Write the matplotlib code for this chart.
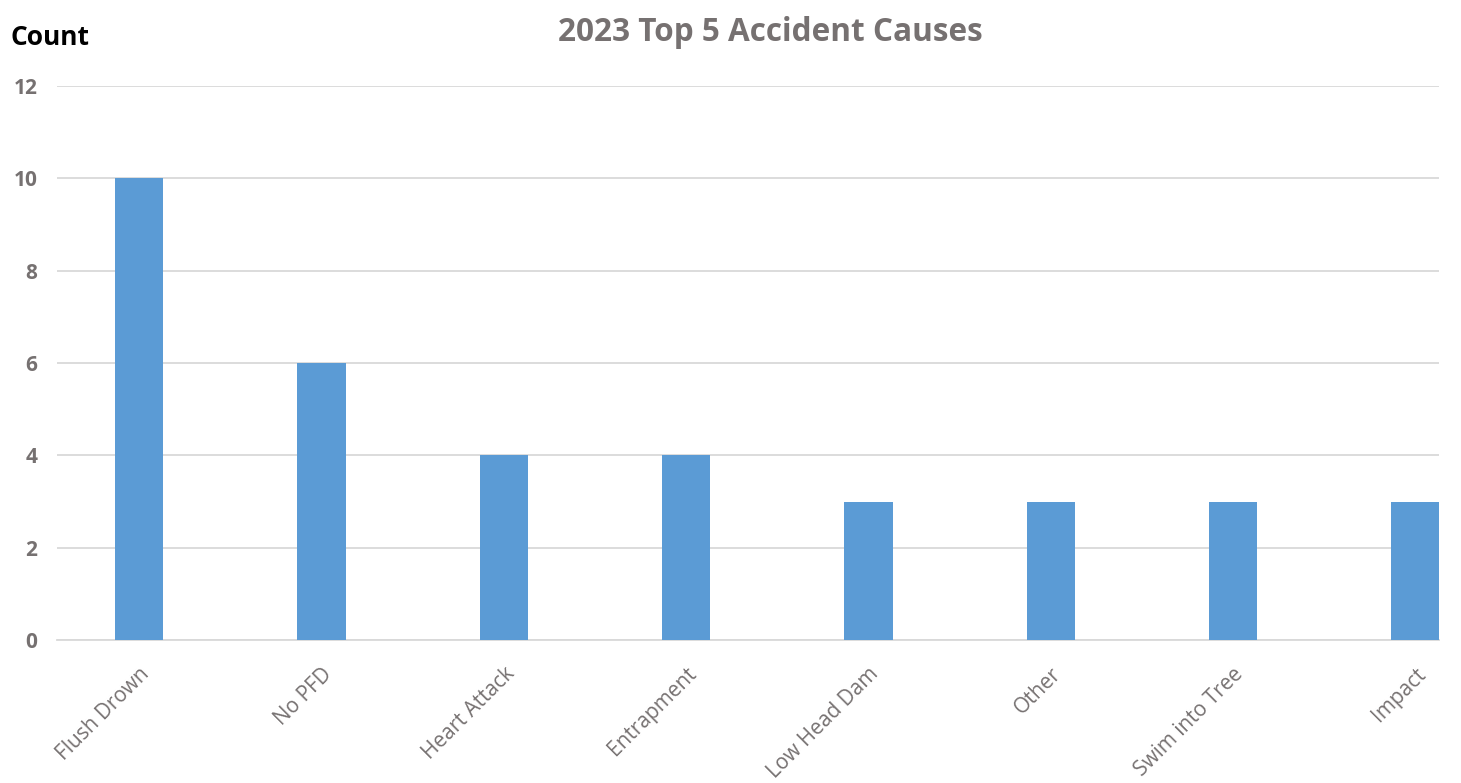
import numpy as np
import matplotlib.pyplot as plt

causes = ['Flush Drown', 'No PFD', 'Heart Attack', 'Entrapment',
          'Low Head Dam', 'Other', 'Swim into Tree', 'Impact']
counts = [10, 6, 4, 4, 3, 3, 3, 3]
y_ticks = [0, 2, 4, 6, 8, 10, 12]

bar_color = '#5B9BD5'
text_gray = '#767171'
grid_gray = '#D9D9D9'

plt.rcParams['font.family'] = ['Open Sans', 'DejaVu Sans']

fig = plt.figure(figsize=(14.61, 7.83), dpi=100)
ax = fig.add_axes([0.039, 0.1826, 0.946, 0.7076])

x = np.arange(len(causes))
ax.bar(x, counts, width=0.265, color=bar_color, zorder=3)

ax.set_xlim(-0.45, 7.13)
ax.set_ylim(0, 12)
ax.set_yticks(y_ticks)
ax.set_yticklabels([str(t) for t in y_ticks], fontsize=15, fontweight='bold',
                   color=text_gray)
ax.yaxis.grid(True, color=grid_gray, linewidth=1.3, zorder=0)
ax.tick_params(axis='y', length=0, pad=14)

ax.set_xticks(x)
ax.set_xticklabels(causes, rotation=45, ha='right', rotation_mode='anchor',
                   fontsize=15, color=text_gray)
ax.tick_params(axis='x', length=0, pad=17)

for side in ['top', 'right', 'left']:
    ax.spines[side].set_visible(False)
ax.spines['bottom'].set_color(grid_gray)
ax.spines['bottom'].set_linewidth(1.3)

fig.text(0.527, 0.958, '2023 Top 5 Accident Causes', ha='center', va='center',
         fontsize=22.7, fontweight='bold', color=text_gray)
fig.text(0.007, 0.952, 'Count', ha='left', va='center',
         fontsize=19, fontweight='bold', color='black')

fig.savefig('out.png', dpi=100)
